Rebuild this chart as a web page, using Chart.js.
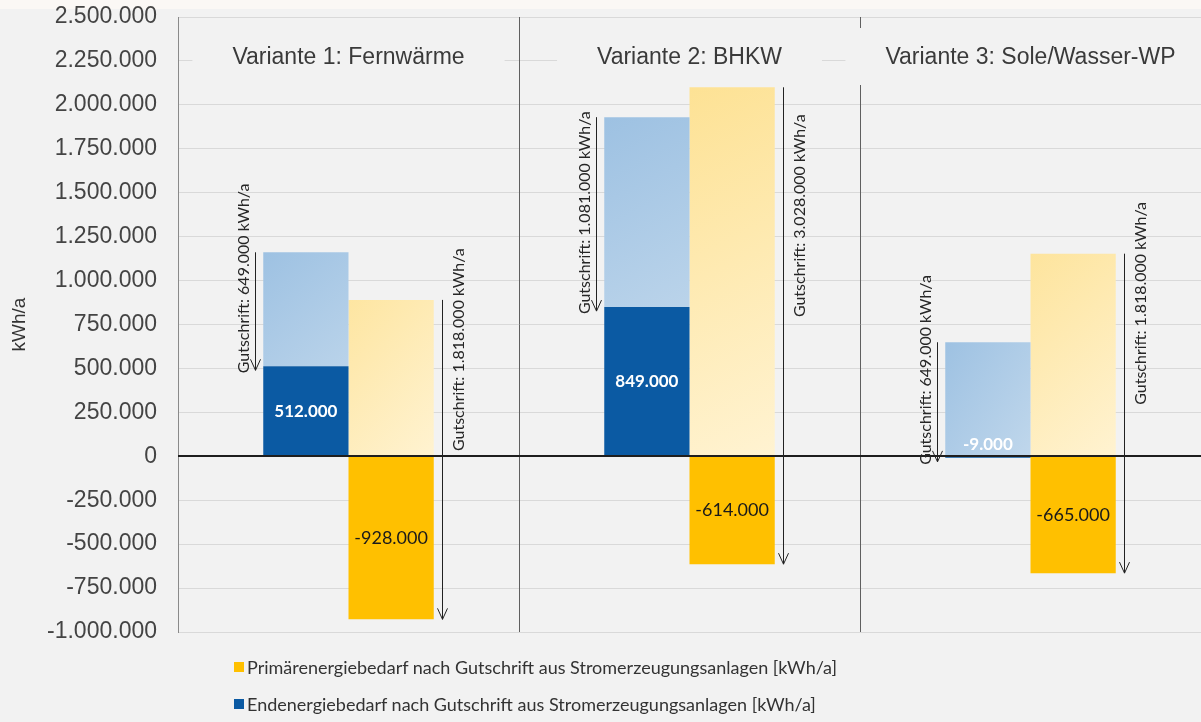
<!DOCTYPE html>
<html lang="de">
<head>
<meta charset="utf-8">
<title>Energiebedarf Varianten</title>
<script src="https://cdn.jsdelivr.net/npm/chart.js@4.4.1/dist/chart.umd.min.js"></script>
<style>
  html, body { margin: 0; padding: 0; background: #f2f2f2; }
  #wrap { position: relative; width: 1201px; height: 722px; background: #f2f2f2; overflow: hidden; }
  #topband { position: absolute; left: 0; top: 0; width: 1201px; height: 9px; background: #fbf8f5; z-index: 0; }
  #energy { position: relative; z-index: 1; }
  #legend { position: absolute; left: 234px; top: 648px; font: 18px Lato, sans-serif; color: #333; z-index: 2; }
  #legend .item { display: flex; align-items: center; height: 37px; }
  #legend .box { width: 10px; height: 10px; margin-right: 3px; }
</style>
</head>
<body>
<div id="wrap">
  <div id="topband"></div>
  <canvas id="energy" width="1201" height="722"></canvas>
  <div id="legend"></div>
</div>
<script>
// Data
const categories = ['Variante 1: Fernwärme', 'Variante 2: BHKW', 'Variante 3: Sole/Wasser-WP'];
const endNachGutschrift = [512000, 849000, -9000];      // dark blue bars
const endGutschrift = [649000, 1081000, 649000];         // light blue part (credit)
const primNachGutschrift = [-928000, -614000, -665000];  // yellow bars
const primVorGutschrift = [890000, 2100000, 1153000];    // light yellow bars
const primGutschrift = [1818000, 3028000, 1818000];      // credit shown on the arrow

const legendLabels = [
    'Primärenergiebedarf nach Gutschrift aus Stromerzeugungsanlagen [kWh/a]',
    'Endenergiebedarf nach Gutschrift aus Stromerzeugungsanlagen [kWh/a]'
];

const BLUE = '#0b5aa3';
const YELLOW = '#ffc000';
const BG = '#f2f2f2';

// German thousands separator: 1.250.000
function fmt(v) {
    return (v < 0 ? '-' : '') + Math.abs(v).toString().replace(/\B(?=(\d{3})+(?!\d))/g, '.');
}

// Gradient for the faded "before credit" bars
function fadedFill(light, dark) {
    return function(ctx) {
        const chart = ctx.chart;
        const y = chart.scales.y, x = chart.scales.x;
        if (!y || !x || !chart.chartArea) return light;
        const top = y.getPixelForValue(ctx.raw > 0 ? (ctx.datasetIndex === 1 ? endNachGutschrift[ctx.dataIndex] + ctx.raw : ctx.raw) : 0);
        const cx = x.getPixelForValue(ctx.dataIndex);
        const g = chart.ctx.createLinearGradient(cx - 90, top, cx + 90, y.getPixelForValue(0));
        g.addColorStop(0, dark);
        g.addColorStop(1, light);
        return g;
    };
}

const annotate = {
    id: 'annotate',
    beforeDatasetsDraw(chart) {
        const {ctx, chartArea: a, scales: {x}} = chart;
        const catW = a.width / categories.length;
        ctx.save();
        // separators between the variants
        ctx.strokeStyle = '#5f5f5f';
        ctx.lineWidth = 1;
        for (let i = 1; i < categories.length; i++) {
            const bx = Math.round(x.getPixelForValue(i) - catW / 2) + 0.5;
            ctx.beginPath();
            ctx.moveTo(bx, a.top);
            ctx.lineTo(bx, a.bottom);
            ctx.stroke();
        }
        // variant titles on a background box
        ctx.font = '23px "Liberation Sans", Arial, sans-serif';
        ctx.textAlign = 'center';
        ctx.textBaseline = 'middle';
        categories.forEach((c, i) => {
            const cx = x.getPixelForValue(i);
            const w = ctx.measureText(c).width;
            ctx.fillStyle = BG;
            ctx.fillRect(cx - w / 2 - 40, a.top + 11, w + 80, 57);
            ctx.fillStyle = '#3a3a3a';
            ctx.fillText(c, cx, a.top + 41);
        });
        ctx.restore();
    },
    afterDatasetsDraw(chart) {
        const {ctx, chartArea: a, scales: {y}} = chart;
        const y0 = Math.round(y.getPixelForValue(0));
        ctx.save();
        // zero line
        ctx.strokeStyle = '#1e1e1e';
        ctx.lineWidth = 2;
        ctx.beginPath();
        ctx.moveTo(a.left, y0);
        ctx.lineTo(a.right, y0);
        ctx.stroke();

        const endSolid = chart.getDatasetMeta(0).data;
        const endFaded = chart.getDatasetMeta(1).data;
        const primSolid = chart.getDatasetMeta(2).data;
        const primFaded = chart.getDatasetMeta(3).data;

        // value labels in the solid bars
        ctx.textAlign = 'center';
        ctx.textBaseline = 'middle';
        endSolid.forEach((b, i) => {
            ctx.font = 'bold 17px Lato, sans-serif';
            ctx.fillStyle = '#ffffff';
            const h = Math.abs(b.base - b.y);
            const ly = h < 20 ? b.base - 12 : (b.y + b.base) / 2;
            ctx.fillText(fmt(endNachGutschrift[i]), b.x, ly);
        });
        primSolid.forEach((b, i) => {
            ctx.font = '18px Lato, sans-serif';
            ctx.fillStyle = '#1a1a1a';
            ctx.fillText(fmt(primNachGutschrift[i]), b.x, (b.y + b.base) / 2);
        });

        // credit arrows
        function arrow(ax, top, end) {
            ctx.strokeStyle = '#222';
            ctx.lineWidth = 1;
            ctx.beginPath();
            ctx.moveTo(ax, top);
            ctx.lineTo(ax, end);
            ctx.moveTo(ax - 5, end - 11);
            ctx.lineTo(ax, end);
            ctx.lineTo(ax + 5, end - 11);
            ctx.stroke();
        }
        function vtext(t, tx, ty, align) {
            ctx.save();
            ctx.translate(tx, ty);
            ctx.rotate(-Math.PI / 2);
            ctx.textAlign = align;
            ctx.textBaseline = 'middle';
            ctx.font = '16px Lato, sans-serif';
            ctx.fillStyle = '#262626';
            ctx.fillText(t, 0, 0);
            ctx.restore();
        }
        endSolid.forEach((b, i) => {
            const ax = Math.round(b.x - b.width / 2 - 8) + 0.5;
            const top = endFaded[i].y;
            const end = b.y + 4;
            arrow(ax, top, end);
            vtext('Gutschrift: ' + fmt(endGutschrift[i]) + ' kWh/a', ax - 12, end + 3, 'left');
        });
        primSolid.forEach((b, i) => {
            const ax = Math.round(b.x + b.width / 2 + 8) + 0.5;
            const top = primFaded[i].y;
            const end = b.y;
            arrow(ax, top, end);
            vtext('Gutschrift: ' + fmt(primGutschrift[i]) + ' kWh/a', ax + 16, (top + end) / 2 - 110, 'center');
        });
        ctx.restore();
    }
};

const energyChart = new Chart('energy', {
    type: 'bar',
    data: {
        labels: categories,
        datasets: [
            {label: legendLabels[1], data: endNachGutschrift, backgroundColor: BLUE, stack: 'end'},
            {label: 'Gutschrift Endenergie', data: endGutschrift, backgroundColor: fadedFill('#d3e3f1', '#9dc1e2'), stack: 'end'},
            {label: legendLabels[0], data: primNachGutschrift, backgroundColor: YELLOW, stack: 'prim'},
            {label: 'Primärenergie vor Gutschrift', data: primVorGutschrift, backgroundColor: fadedFill('#fff3d2', '#fde08e'), stack: 'prim'}
        ]
    },
    options: {
        responsive: false,
        animation: false,
        categoryPercentage: 0.5,
        barPercentage: 1,
        layout: {padding: {top: 17, bottom: 90, left: 0, right: 0}},
        plugins: {
            legend: {display: false},
            tooltip: {enabled: false}
        },
        scales: {
            x: {display: false, stacked: true},
            y: {
                stacked: true,
                min: -1000000,
                max: 2500000,
                afterFit: (s) => { s.width = 178; s.paddingTop = 0; s.paddingBottom = 0; },
                ticks: {
                    stepSize: 250000,
                    padding: 21,
                    color: '#444',
                    font: {family: '"Liberation Sans", Arial, sans-serif', size: 23},
                    callback: (v) => fmt(v)
                },
                grid: {color: '#d9d9d9', lineWidth: 1, drawTicks: false},
                border: {display: true, color: '#8a8a8a', width: 1},
                title: {
                    display: true,
                    text: 'kWh/a',
                    color: '#333',
                    padding: {top: 8, bottom: 0},
                    font: {family: '"Liberation Sans", Arial, sans-serif', size: 19}
                }
            }
        }
    },
    plugins: [annotate]
});

// Legend below the chart, only the two solid series
const legendEl = document.getElementById('legend');
[2, 0].forEach(di => {
    const ds = energyChart.data.datasets[di];
    const item = document.createElement('div');
    item.className = 'item';
    item.innerHTML = '<span class="box" style="background:' + ds.backgroundColor + '"></span><span>' + ds.label + '</span>';
    legendEl.appendChild(item);
});
</script>
</body>
</html>
